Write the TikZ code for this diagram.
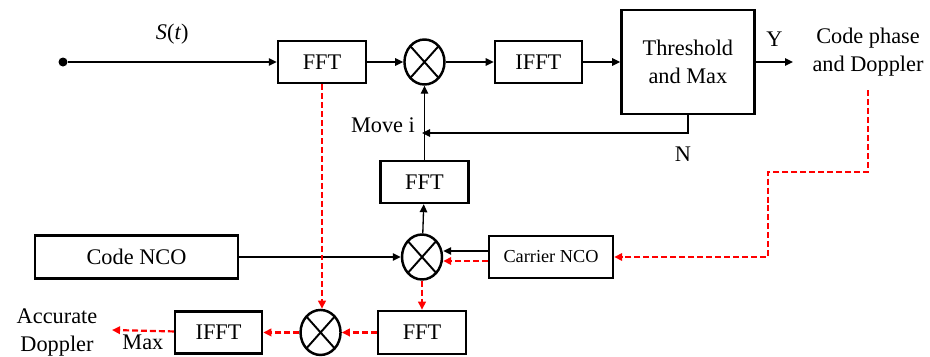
\documentclass[tikz,border=0pt]{standalone}
\usepackage{fontspec}
\setmainfont{Liberation Serif}
\usepackage{tikz}
\usetikzlibrary{positioning, arrows.meta, shapes.geometric}

\begin{document}
\begin{tikzpicture}[
    % Define styles for the blocks, mixers and connectors
    box/.style={draw, rectangle, line width=1.4pt, align=center, minimum width=1.76cm, minimum height=0.84cm, inner sep=2pt, font=\fontsize{12.7}{15.9}\selectfont},
    mixer/.style={draw, ellipse, line width=1.4pt, minimum width=0.8cm, minimum height=0.9cm, inner sep=0pt,
        path picture={\draw[line width=1.1pt] (path picture bounding box.north west) -- (path picture bounding box.south east)
            (path picture bounding box.north east) -- (path picture bounding box.south west);}},
    textnode/.style={align=center, inner sep=1pt, font=\fontsize{12.7}{15.9}\selectfont},
    arrow/.style={-{Triangle[length=1.6mm, width=1.5mm]}, line width=0.75pt},
    redarrow/.style={arrow, red, line width=1.25pt, dash pattern=on 3.4pt off 1.7pt}
]
    \useasboundingbox (0,0) rectangle (18.6,-7.12);

    % Define the nodes
    \node[circle, fill, inner sep=0pt, minimum size=0.18cm] (start) at (1.26,-1.24) {};

    \node[box] (fft1) at (6.44,-1.24) {FFT};

    \node[mixer, right=0.72cm of fft1] (mix1) {};

    \node[box, minimum width=1.74cm, right=0.96cm of mix1] (ifft1) {IFFT};

    \node[box, minimum width=2.66cm, minimum height=2.08cm, right=0.74cm of ifft1] (thr) {Threshold\\and Max};

    \node[textnode, anchor=north] (out) at (17.36,-0.52) {Code phase\\and Doppler};

    \coordinate (yend) at (15.86,-1.24);

    \coordinate (fb) at (8.44,-2.66);

    \node[textnode, anchor=base east] (move) at (8.34,-2.64) {Move i};

    \node[textnode, anchor=base] (nlabel) at (13.66,-3.22) {N};

    \node[box, below=1.48cm of mix1] (fft2) {FFT};

    \node[mixer] (mix2) at (8.44,-5.14) {};

    \node[box, minimum width=4.06cm, minimum height=0.86cm] (codenco) at (2.73,-5.14) {Code NCO};

    \node[box, minimum width=2.48cm, font=\fontsize{10.4}{12}\selectfont] (carnco) at (11.02,-5.14) {Carrier NCO};

    \node[box, minimum height=0.86cm, below=0.58cm of mix2] (fft3) {FFT};

    \node[mixer, left=0.7cm of fft3] (mix3) {};

    \node[box, minimum width=1.74cm, left=0.72cm of mix3] (ifft2) {IFFT};

    \coordinate (maxend) at (2.24,-6.6);

    \node[textnode, anchor=north] (acc) at (1.14,-6.14) {Accurate\\Doppler};

    \coordinate (turn) at (15.36,-3.44);

    % Draw the main acquisition path
    \draw[arrow] (start) -- node[textnode, above=0.3cm] {\textit{S}(\textit{t})} (fft1);

    \draw[arrow] (fft1) -- (mix1);

    \draw[arrow] (mix1) -- (ifft1);

    \draw[arrow] (ifft1) -- (thr);

    \draw[arrow] (thr.east) -- node[textnode, above=0.27cm] {Y} (yend);

    \draw[arrow] (thr.south) |- (fb);

    \draw[arrow] (fft2) -- (mix1);

    \draw[arrow] (mix2) -- (fft2);

    \draw[arrow] (codenco) -- (mix2);

    \draw[arrow] ([yshift=0.12cm]carnco.west) -- ([yshift=0.12cm]mix2.east);

    % Draw the red refinement path
    \draw[redarrow] ([yshift=-0.24cm]out.south) |- (turn) |- (carnco.east);

    \draw[redarrow] ([yshift=-0.08cm]carnco.west) -- ([yshift=-0.08cm]mix2.east);

    \draw[redarrow] (fft1.south) -- (fft1.south |- mix3.north);

    \draw[redarrow] (mix2) -- (fft3);

    \draw[redarrow] (fft3) -- (mix3);

    \draw[redarrow] (mix3) -- (ifft2);

    \draw[redarrow] (ifft2) -- node[textnode, text=black, below=0.03cm] {Max} (maxend);
\end{tikzpicture}
\end{document}
